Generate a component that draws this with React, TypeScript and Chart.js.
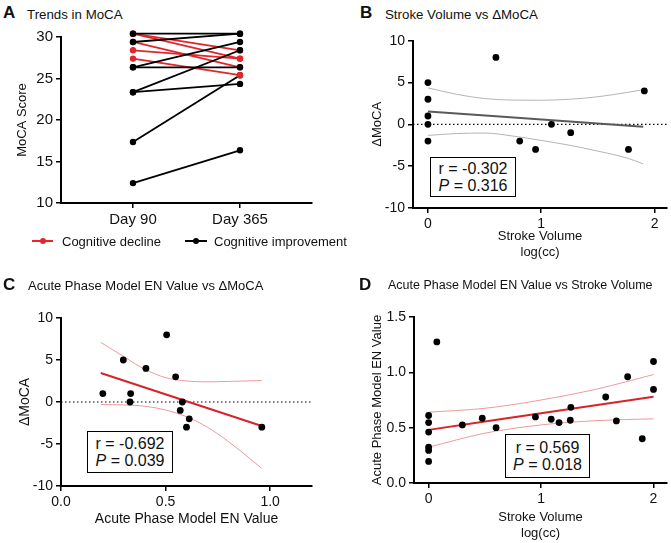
import React, { useEffect, useRef } from "react";
import { Chart, registerables } from "chart.js";

Chart.register(...registerables);

const FONT = "'Liberation Sans', Arial, Helvetica, sans-serif";

// ---------- Panel A: Trends in MoCA ----------
const timepoints = ["Day 90", "Day 365"];
// listed top-most first (drawing order)
const day90 = [30.4, 29.4, 26.35, 26.35, 23.35, 23.35, 12.4, 30.4, 30.4, 29.4, 28.4, 27.4, 17.35];
const day365 = [30.4, 30.4, 29.4, 26.35, 28.4, 24.35, 16.35, 28.4, 27.4, 26.35, 27.4, 25.4, 25.4];
const trend = [
  "improvement", "improvement", "improvement", "improvement", "improvement", "improvement", "improvement",
  "decline", "decline", "decline", "decline", "decline",
  "improvement",
];
const mocaTicks = [10, 15, 20, 25, 30];
const legendLabels = ["Cognitive decline", "Cognitive improvement"];

// ---------- Panel B: Stroke Volume vs ΔMoCA ----------
const strokeVolB = [0, 0, 0, 0, 0, 0.6, 0.81, 0.95, 1.09, 1.26, 1.77, 1.91];
const deltaMocaB = [5, 3, 1, 0, -2, 8, -2, -3, 0, -1, -3, 4];
const fitBx = [0, 1.9];
const fitBy = [1.55, -0.3];
const ciBx = [0, 0.25, 0.5, 0.75, 1, 1.25, 1.5, 1.75, 1.9];
const ciBUpper = [4.36, 3.6, 3.08, 2.9, 2.88, 3.0, 3.3, 3.8, 4.15];
const ciBLower = [-1.32, -1.1, -1.04, -1.4, -1.92, -2.5, -3.2, -4.0, -4.72];
const statsB = ["-0.302", "0.316"];

// ---------- Panel C: EN Value vs ΔMoCA ----------
const enC = [0.2, 0.298, 0.33, 0.333, 0.406, 0.505, 0.548, 0.57, 0.58, 0.6, 0.613, 0.96];
const deltaMocaC = [1, 5, 0, 1, 4, 8, 3, -1, 0, -3, -2, -3];
const fitCx = [0.19, 0.96];
const fitCy = [3.45, -2.85];
const ciCx = [0.19, 0.3, 0.4, 0.5, 0.6, 0.7, 0.8, 0.96];
const ciCUpper = [7.1, 5.4, 3.9, 2.9, 2.5, 2.4, 2.45, 2.55];
const ciCLower = [-0.3, -0.35, -0.5, -0.95, -1.75, -3.0, -4.7, -7.9];
const statsC = ["-0.692", "0.039"];

// ---------- Panel D: EN Value vs Stroke Volume ----------
const strokeVolD = [0, 0, 0, 0, 0, 0, 0.073, 0.3, 0.477, 0.6, 0.95, 1.09, 1.16, 1.26, 1.265, 1.575, 1.67, 1.77, 1.9, 2.0, 2.0];
const enD = [0.61, 0.546, 0.46, 0.324, 0.294, 0.195, 1.275, 0.525, 0.585, 0.5, 0.597, 0.576, 0.546, 0.567, 0.684, 0.777, 0.561, 0.96, 0.4, 1.098, 0.846];
const fitDx = [0, 2];
const fitDy = [0.48, 0.78];
const ciDx = [0, 0.5, 1, 1.5, 2];
const ciDUpper = [0.64, 0.675, 0.75, 0.85, 0.98];
const ciDLower = [0.324, 0.45, 0.525, 0.564, 0.58];
const statsD = ["0.569", "0.018"];

// shared tick lists
const deltaTicks = [-10, -5, 0, 5, 10];
const strokeTicks = [0, 1, 2];
const enTicksC = [0, 0.5, 1];
const enTicksD = [0, 0.5, 1, 1.5];

// ---------- styling ----------
const RED = "#e2262c";
const FIT_RED = "#d8232a";
const CI_RED = "#ee9a9c";
const FIT_GRAY = "#5a5a5a";
const CI_GRAY = "#b4b4b4";

const pts = (xs: number[], ys: number[]) => xs.map((x, i) => ({ x, y: ys[i] }));

function pointsDataset(xs: number[], ys: number[]) {
  return {
    data: pts(xs, ys),
    showLine: false,
    pointRadius: 3.4,
    pointBackgroundColor: "#000",
    pointBorderWidth: 0,
    clip: false,
  };
}

function lineDataset(xs: number[], ys: number[], color: string, width: number, extra: any = {}) {
  return {
    data: pts(xs, ys),
    showLine: true,
    borderColor: color,
    borderWidth: width,
    pointRadius: 0,
    fill: false,
    cubicInterpolationMode: "monotone",
    ...extra,
  };
}

function axis(o: {
  horizontal: boolean;
  min: number;
  max: number;
  ticks: number[];
  size: number;
  fmt?: (v: number) => string;
  title?: string | string[];
  titleSize?: number;
  titlePad?: number;
  tickSize?: number;
}) {
  return {
    type: "linear",
    position: o.horizontal ? "bottom" : "left",
    min: o.min,
    max: o.max,
    afterBuildTicks: (s: any) => {
      s.ticks = o.ticks.map((v) => ({ value: v }));
    },
    afterFit: (s: any) => {
      if (o.horizontal) {
        s.height = o.size;
        s.paddingLeft = 0;
        s.paddingRight = 0;
      } else {
        s.width = o.size;
        s.paddingTop = 0;
        s.paddingBottom = 0;
      }
    },
    ticks: {
      color: "#111",
      font: { family: FONT, size: o.tickSize ?? 14 },
      padding: 3,
      maxRotation: 0,
      autoSkip: false,
      callback: (v: any) => (o.fmt ? o.fmt(Number(v)) : String(v)),
    },
    grid: { drawOnChartArea: false, drawTicks: true, tickLength: 5, color: "#000", lineWidth: 1.5 },
    border: { display: true, color: "#000", width: 2 },
    title: {
      display: !!o.title,
      text: o.title,
      color: "#111",
      font: { family: FONT, size: o.titleSize ?? 13 },
      padding: o.horizontal ? { top: 0, bottom: o.titlePad ?? 0 } : { top: o.titlePad ?? 0, bottom: 0 },
    },
  };
}

function baseOptions(padding: any, x: any, y: any) {
  return {
    responsive: false,
    maintainAspectRatio: false,
    animation: false,
    events: [],
    layout: { padding },
    plugins: { legend: { display: false }, tooltip: { enabled: false }, title: { display: false } },
    scales: { x, y },
  };
}

// ---------- panel configs ----------
function configA() {
  const datasets = day90.map((v, i) => {
    const c = trend[i] === "decline" ? RED : "#000";
    return {
      data: [
        { x: 0, y: v },
        { x: 1, y: day365[i] },
      ],
      showLine: true,
      borderColor: c,
      borderWidth: 1.8,
      pointRadius: 3.2,
      pointBackgroundColor: c,
      pointBorderWidth: 0,
      clip: false,
    };
  });
  return {
    type: "scatter",
    data: { datasets },
    options: baseOptions(
      { left: 0, top: 12, right: 23, bottom: 0 },
      axis({ horizontal: true, min: -0.673, max: 1.673, ticks: [0, 1], size: 32, fmt: (v) => timepoints[v] ?? "", tickSize: 15 }),
      axis({ horizontal: false, min: 10, max: 30, ticks: mocaTicks, size: 61, title: "MoCA Score", titleSize: 13, titlePad: 15, tickSize: 15 })
    ),
  };
}

const XMIN_B = -0.132, XMAX_B = 2.11;
function configB() {
  return {
    type: "scatter",
    data: {
      datasets: [
        pointsDataset(strokeVolB, deltaMocaB),
        lineDataset(fitBx, fitBy, FIT_GRAY, 2),
        lineDataset(ciBx, ciBUpper, CI_GRAY, 1),
        lineDataset(ciBx, ciBLower, CI_GRAY, 1),
        lineDataset([XMIN_B, XMAX_B], [0, 0], "#000", 1.2, { borderDash: [1.5, 2.5] }),
      ],
    },
    options: baseOptions(
      { left: 0, top: 15.7, right: 3, bottom: 0 },
      axis({ horizontal: true, min: XMIN_B, max: XMAX_B, ticks: strokeTicks, size: 52, title: ["Stroke Volume", "log(cc)"], titleSize: 13, titlePad: 0 }),
      axis({ horizontal: false, min: -10, max: 10, ticks: deltaTicks, size: 78, title: "ΔMoCA", titleSize: 13, titlePad: 35 })
    ),
  };
}

const XMIN_C = 0, XMAX_C = 1.2;
function configC() {
  return {
    type: "scatter",
    data: {
      datasets: [
        pointsDataset(enC, deltaMocaC),
        lineDataset(fitCx, fitCy, FIT_RED, 2),
        lineDataset(ciCx, ciCUpper, CI_RED, 1),
        lineDataset(ciCx, ciCLower, CI_RED, 1),
        lineDataset([XMIN_C, XMAX_C], [0, 0], "#000", 1.2, { borderDash: [1.5, 2.5] }),
      ],
    },
    options: baseOptions(
      { left: 0, top: 23, right: 23, bottom: 0 },
      axis({ horizontal: true, min: XMIN_C, max: XMAX_C, ticks: enTicksC, size: 49, fmt: (v) => v.toFixed(1), title: "Acute Phase Model EN Value", titleSize: 14, titlePad: 7.5 }),
      axis({ horizontal: false, min: -10, max: 10, ticks: deltaTicks, size: 61, title: "ΔMoCA", titleSize: 14, titlePad: 16.5 })
    ),
  };
}

function configD() {
  return {
    type: "scatter",
    data: {
      datasets: [
        pointsDataset(strokeVolD, enD),
        lineDataset(fitDx, fitDy, FIT_RED, 2),
        lineDataset(ciDx, ciDUpper, CI_RED, 1),
        lineDataset(ciDx, ciDLower, CI_RED, 1),
      ],
    },
    options: baseOptions(
      { left: 0, top: 22, right: 0, bottom: 0 },
      axis({ horizontal: true, min: -0.13, max: 2.12, ticks: strokeTicks, size: 60, title: ["Stroke Volume", "log(cc)"], titleSize: 13, titlePad: 2 }),
      axis({ horizontal: false, min: 0, max: 1.5, ticks: enTicksD, size: 79, fmt: (v) => v.toFixed(1), title: "Acute Phase Model EN Value", titleSize: 13, titlePad: 35 })
    ),
  };
}

function ChartCanvas(props: { left: number; top: number; width: number; height: number; make: () => any }) {
  const ref = useRef<HTMLCanvasElement>(null);
  useEffect(() => {
    const chart = new Chart(ref.current as HTMLCanvasElement, props.make());
    return () => chart.destroy();
  }, []);
  return (
    <canvas
      ref={ref}
      width={props.width}
      height={props.height}
      style={{ position: "absolute", left: props.left, top: props.top, width: props.width, height: props.height }}
    />
  );
}

function Label(props: { x: number; cy: number; size: number; bold?: boolean; children: any }) {
  const lh = Math.round(props.size * 1.3);
  return (
    <div
      style={{
        position: "absolute",
        left: props.x,
        top: props.cy - lh / 2,
        fontFamily: FONT,
        fontSize: props.size,
        lineHeight: lh + "px",
        fontWeight: props.bold ? 700 : 400,
        color: "#111",
        whiteSpace: "nowrap",
      }}
    >
      {props.children}
    </div>
  );
}

function StatBox(props: { left: number; top: number; width: number; height: number; r: string; p: string }) {
  return (
    <div
      style={{
        position: "absolute",
        left: props.left,
        top: props.top,
        width: props.width,
        height: props.height,
        boxSizing: "border-box",
        border: "1.5px solid #000",
        background: "#fff",
        display: "flex",
        flexDirection: "column",
        justifyContent: "center",
        alignItems: "center",
        fontFamily: FONT,
        fontSize: 16,
        lineHeight: "17px",
        color: "#111",
      }}
    >
      <div>r = {props.r}</div>
      <div>
        <i>P</i> = {props.p}
      </div>
    </div>
  );
}

function LegendItem(props: { x1: number; x2: number; cy: number; color: string; tx: number; label: string }) {
  const mid = (props.x1 + props.x2) / 2;
  return (
    <>
      <div style={{ position: "absolute", left: props.x1, top: props.cy - 1, width: props.x2 - props.x1, height: 2, background: props.color }} />
      <div style={{ position: "absolute", left: mid - 3, top: props.cy - 3, width: 6, height: 6, borderRadius: 3, background: props.color }} />
      <Label x={props.tx} cy={props.cy} size={13}>
        {props.label}
      </Label>
    </>
  );
}

export default function App() {
  return (
    <div style={{ position: "absolute", left: 0, top: 0, width: 671, height: 543, overflow: "hidden", background: "#fff" }}>
      <ChartCanvas left={0} top={25} width={335} height={210} make={configA} />
      <ChartCanvas left={335} top={25} width={336} height={235} make={configB} />
      <ChartCanvas left={0} top={295} width={335} height={240} make={configC} />
      <ChartCanvas left={335} top={295} width={336} height={248} make={configD} />

      <Label x={3} cy={13} size={17} bold>A</Label>
      <Label x={27} cy={14} size={13.3}>Trends in MoCA</Label>
      <Label x={360} cy={13} size={17} bold>B</Label>
      <Label x={385} cy={14} size={13.3}>Stroke Volume vs ΔMoCA</Label>
      <Label x={3} cy={285} size={17} bold>C</Label>
      <Label x={28} cy={285} size={13}>Acute Phase Model EN Value vs ΔMoCA</Label>
      <Label x={359} cy={285} size={17} bold>D</Label>
      <Label x={388} cy={285} size={12.5}>Acute Phase Model EN Value vs Stroke Volume</Label>

      <LegendItem x1={32} x2={53} cy={241} color={RED} tx={62} label={legendLabels[0]} />
      <LegendItem x1={185} x2={207} cy={241} color="#000" tx={214} label={legendLabels[1]} />

      <StatBox left={430} top={157} width={86} height={40} r={statsB[0]} p={statsB[1]} />
      <StatBox left={87} top={431} width={86} height={42} r={statsC[0]} p={statsC[1]} />
      <StatBox left={505} top={434} width={85} height={44} r={statsD[0]} p={statsD[1]} />
    </div>
  );
}
